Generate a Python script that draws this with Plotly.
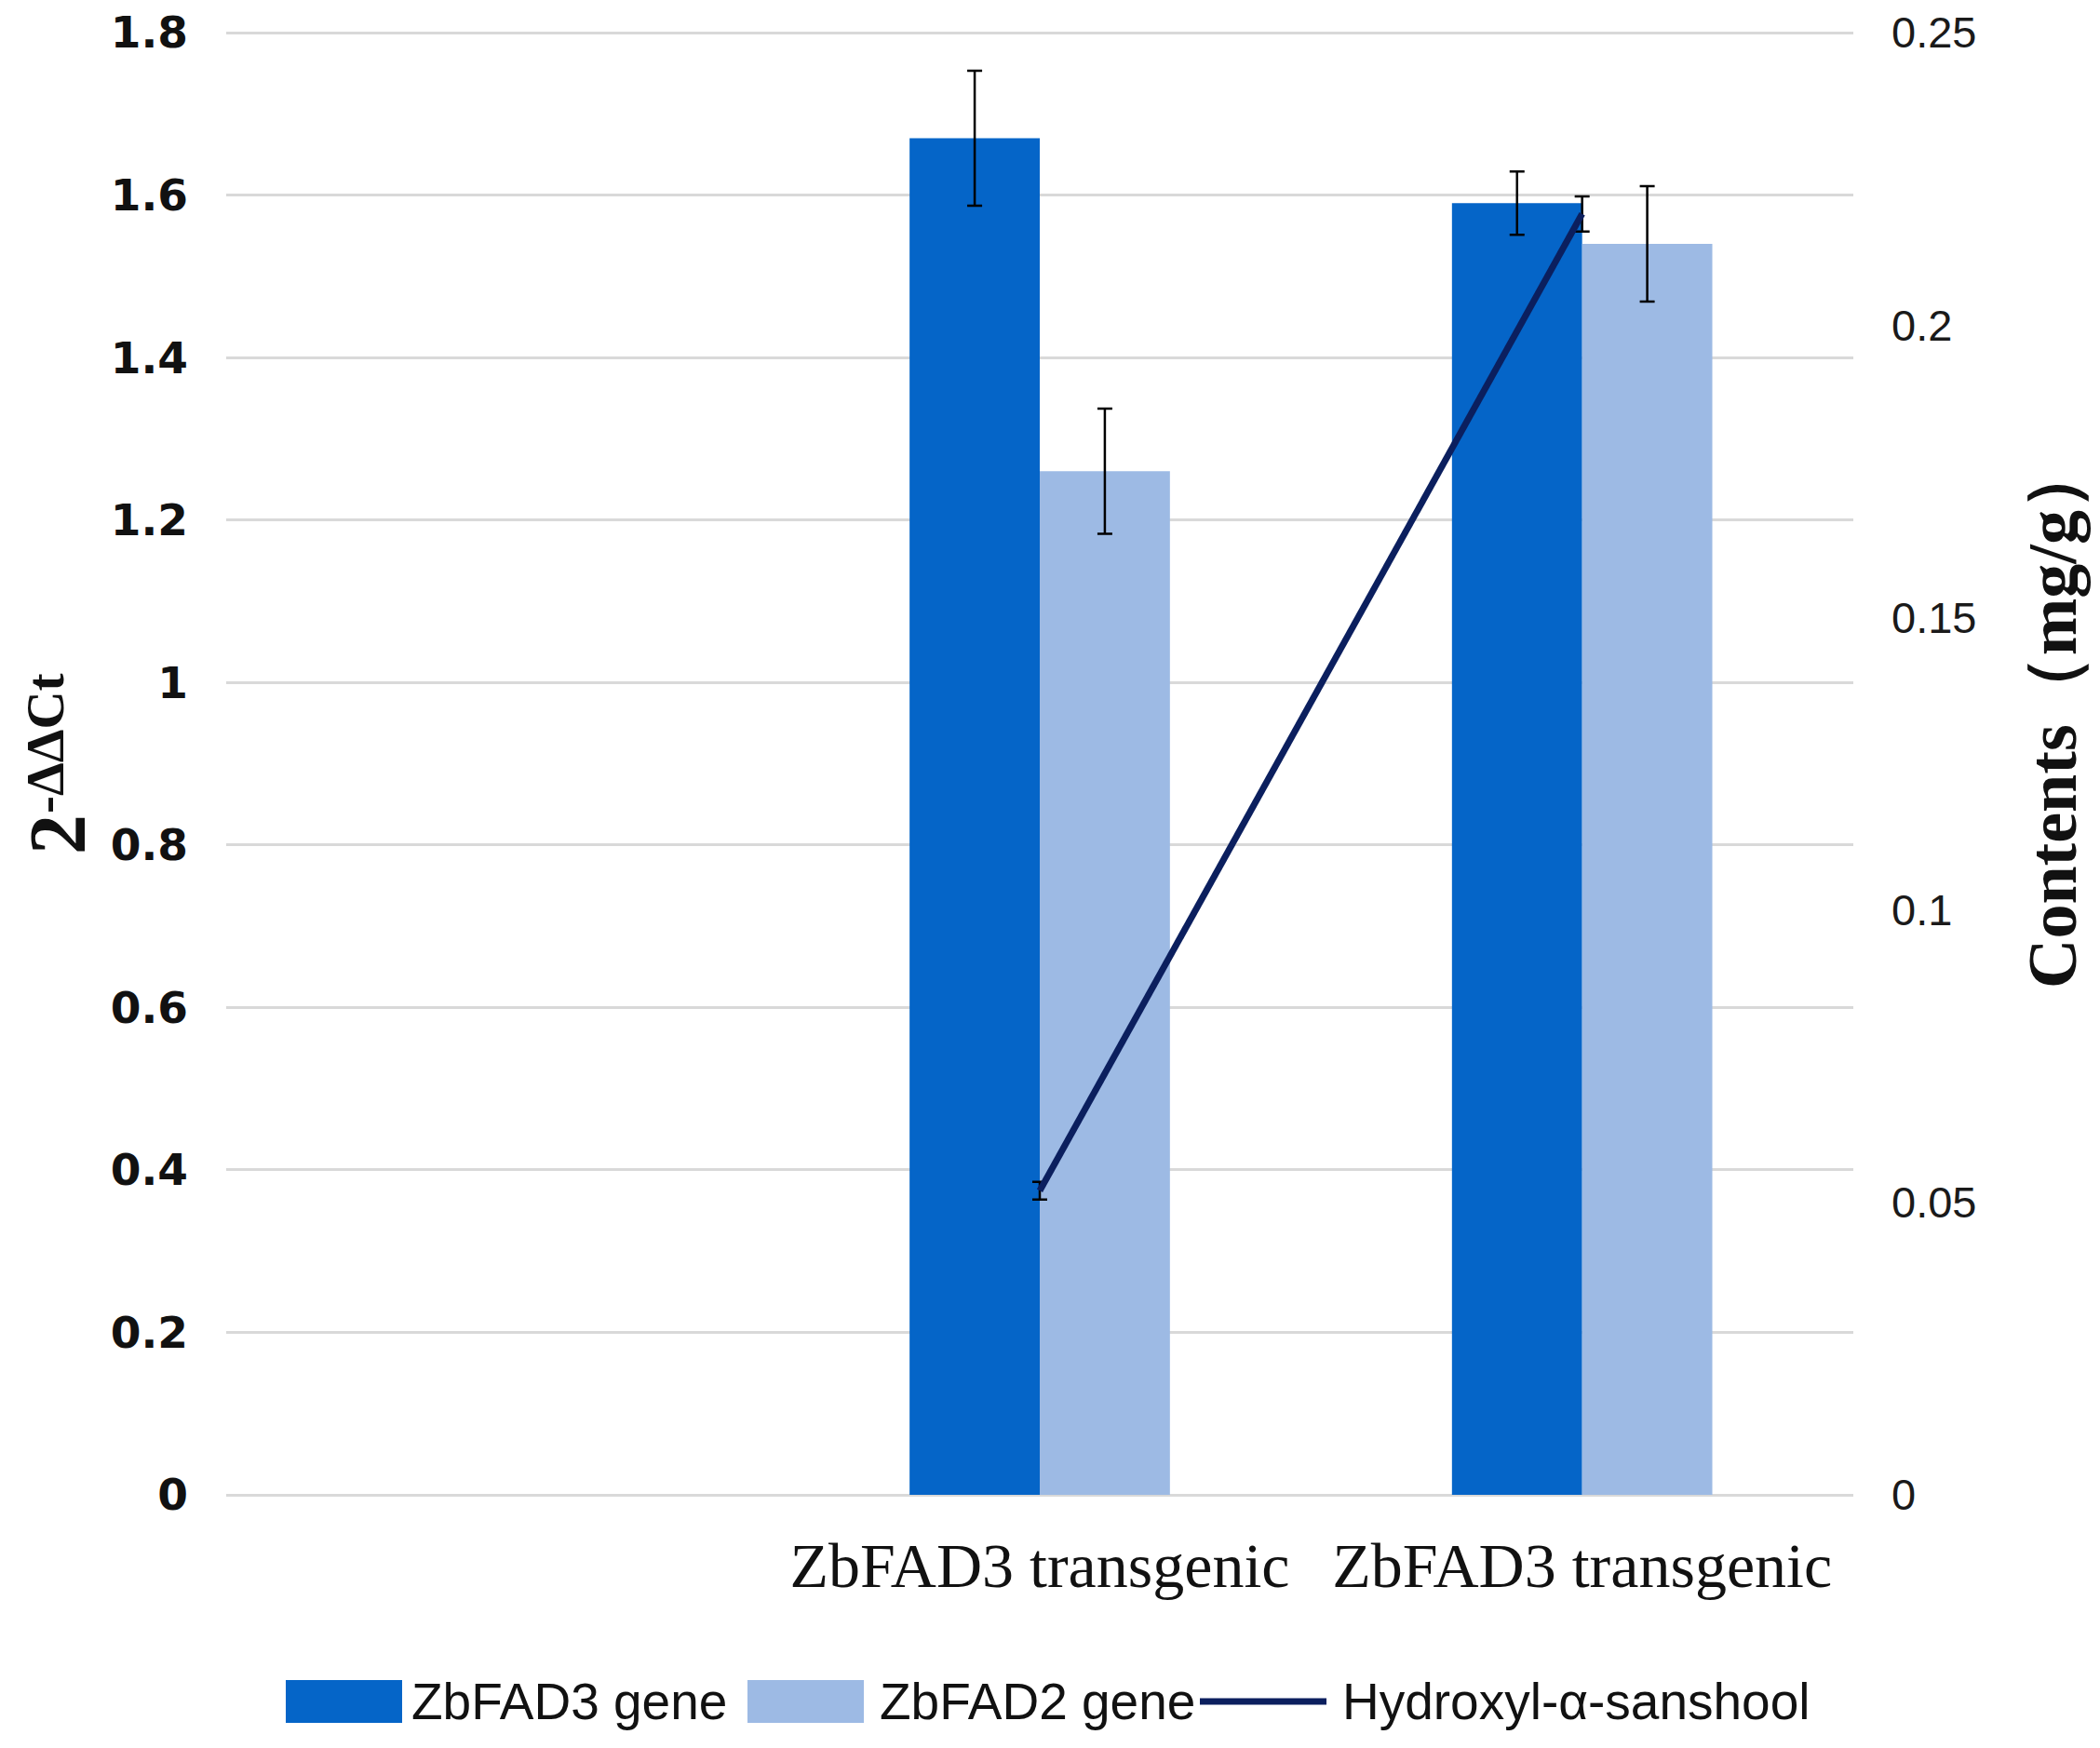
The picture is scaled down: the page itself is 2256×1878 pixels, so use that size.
import plotly.graph_objects as go

# Category slots (the first slot is left empty in the original chart)
groups = [0, 1, 2]
group_labels = ["", "ZbFAD3 transgenic", "ZbFAD3 transgenic"]

# Relative expression, 2^-ΔΔCt
fad3_expr = [None, 1.67, 1.59]
fad3_err = [None, 0.083, 0.039]
fad2_expr = [None, 1.26, 1.54]
fad2_err = [None, 0.077, 0.071]

# Hydroxyl-alpha-sanshool content (mg/g)
sanshool = [None, 0.052, 0.219]
sanshool_err = [None, 0.0015, 0.003]

names = ["ZbFAD3 gene", "ZbFAD2 gene", "Hydroxyl-α-sanshool"]
colors = ["#0565C8", "#9DBAE4", "#0B1F5E"]

W, H = 2256, 1878
L, R, T, B = 235, 273, 23, 280

# a few px of headroom so the top gridline (1.8 / 0.25) is not clipped away
y_top = 1.8 * (H - T - B) / (H - 27 - B)
y2_top = 0.25 * y_top / 1.8


def px(x):
    return (x - L) / (W - L - R)


def py(y):
    return (H - B - y) / (H - T - B)


err_style = dict(type="data", color="black", thickness=2.5, width=8, visible=True)

data = [
    go.Bar(x=groups, y=fad3_expr, name=names[0], marker_color=colors[0],
           marker_line_width=0, error_y=dict(err_style, array=fad3_err)),
    go.Bar(x=groups, y=fad2_expr, name=names[1], marker_color=colors[1],
           marker_line_width=0, error_y=dict(err_style, array=fad2_err)),
    go.Scatter(x=groups, y=sanshool, name=names[2], yaxis="y2", mode="lines",
               line=dict(color=colors[2], width=7),
               error_y=dict(err_style, array=sanshool_err)),
]

# Hand-made legend at the bottom (wide keys like the original)
leg_y = 1820
shapes = [
    dict(type="rect", xref="paper", yref="paper", x0=px(299), x1=px(424),
         y0=py(leg_y - 23), y1=py(leg_y + 23), fillcolor=colors[0], line_width=0),
    dict(type="rect", xref="paper", yref="paper", x0=px(795), x1=px(920),
         y0=py(leg_y - 23), y1=py(leg_y + 23), fillcolor=colors[1], line_width=0),
    dict(type="line", xref="paper", yref="paper", x0=px(1281), x1=px(1417),
         y0=py(leg_y), y1=py(leg_y), line=dict(color=colors[2], width=7)),
]
legend_font = dict(family="Liberation Sans", size=55, color="#111111")
annotations = [
    dict(text=n, x=px(x), y=py(leg_y), xref="paper", yref="paper", xanchor="left",
         yanchor="middle", showarrow=False, font=legend_font)
    for n, x in zip(names, [432, 935, 1432])
]

# Axis titles (left one is "2" with a smaller "-ΔΔCt" beside it)
title_font = dict(family="Liberation Serif", color="#111111")
annotations += [
    dict(text="<b>2</b>", x=px(54), y=py(889), xref="paper",
         yref="paper", xanchor="center", yanchor="middle", textangle=-90,
         showarrow=False, font=dict(title_font, size=86)),
    dict(text="<b>-ΔΔCt</b>", x=px(40), y=py(791), xref="paper",
         yref="paper", xanchor="center", yanchor="middle", textangle=-90,
         showarrow=False, font=dict(title_font, size=57)),
    dict(text="<b>Contents（mg/g）</b>", x=px(2197), y=py(760), xref="paper",
         yref="paper", xanchor="center", yanchor="middle", textangle=-90,
         showarrow=False, font=dict(title_font, size=74)),
]

layout = go.Layout(
    width=W, height=H,
    margin=dict(l=L, r=R, t=T, b=B, autoexpand=False),
    paper_bgcolor="white", plot_bgcolor="white",
    barmode="group", bargap=0.52, bargroupgap=0,
    showlegend=False,
    xaxis=dict(tickvals=groups, ticktext=group_labels, range=[-0.5, 2.5],
               showgrid=False, showline=False, zeroline=False, ticks="",
               ticklabelstandoff=30,
               tickfont=dict(family="Liberation Serif", size=68, color="#111111")),
    yaxis=dict(range=[0, y_top], tickvals=[0, 0.2, 0.4, 0.6, 0.8, 1, 1.2, 1.4, 1.6, 1.8],
               showgrid=True, gridcolor="#D9D9D9",
               gridwidth=3, zeroline=True, zerolinecolor="#D9D9D9", zerolinewidth=3,
               showline=False, ticks="", ticklabelstandoff=40, ticklabeloverflow="allow",
               tickfont=dict(family="DejaVu Sans", size=47, color="#111111", weight="bold")),
    yaxis2=dict(range=[0, y2_top], tickvals=[0, 0.05, 0.1, 0.15, 0.2, 0.25],
                overlaying="y", side="right",
                showgrid=False, zeroline=False, showline=False, ticks="",
                ticklabelstandoff=40, ticklabeloverflow="allow",
                tickfont=dict(family="Liberation Sans", size=47, color="#1a1a1a")),
    shapes=shapes,
    annotations=annotations,
)

fig = go.Figure(data=data, layout=layout)
fig.write_html("out.html")
